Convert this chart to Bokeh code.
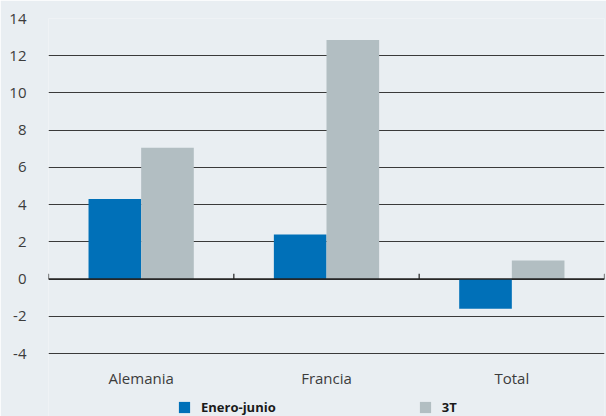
from bokeh.plotting import figure
from bokeh.models import (ColumnDataSource, FactorRange, Range1d, Span, Legend, LegendItem,
                          FixedTicker, LabelSet)
from bokeh.core.properties import value
from bokeh.transform import dodge
from bokeh.embed import file_html
from bokeh.resources import INLINE

categories = ["Alemania", "Francia", "Total"]
enero_junio = [4.3, 2.4, -1.6]
tercer_t = [7.05, 12.85, 1.0]
y_ticks = [-4, -2, 0, 2, 4, 6, 8, 10, 12, 14]
series_names = ["Enero-junio", "3T"]

BG = "#e9eef2"
BLUE = "#0070b8"
GRAY = "#b2bec2"
FONT = "Open Sans"

W, H = 606, 416
TOP, AXIS_PX = 18, 335          # pixel top of the 14 line, pixel span from 14 to -4
ymin, ymax = y_ticks[0], y_ticks[-1]
ppu = AXIS_PX / (ymax - ymin)
y_start = ymax - (H - TOP) / ppu   # extend frame to the bottom so legend/labels are not clipped

src = ColumnDataSource(dict(cat=categories, a=enero_junio, b=tercer_t,
                            base=[ymin] * len(categories)))

p = figure(width=W, height=H, output_backend="svg", toolbar_location=None,
           x_range=FactorRange(*categories, range_padding=0),
           y_range=Range1d(y_start, ymax), x_axis_location=None)
p.background_fill_color = BG
p.border_fill_color = BG
p.outline_line_color = None
p.min_border_left = 48
p.min_border_right = 2
p.min_border_top = TOP
p.min_border_bottom = 0

bw = 0.284
r1 = p.vbar(x=dodge("cat", -bw / 2, range=p.x_range), top="a", bottom=0, width=bw,
            source=src, fill_color=BLUE, line_color=None)
r2 = p.vbar(x=dodge("cat", bw / 2, range=p.x_range), top="b", bottom=0, width=bw,
            source=src, fill_color=GRAY, line_color=None)

# grid
p.xgrid.grid_line_color = None
p.ygrid.ticker = FixedTicker(ticks=y_ticks)
p.ygrid.grid_line_color = "#3a3a3a"
p.ygrid.grid_line_width = 1

# zero axis line and boundary ticks
p.add_layout(Span(location=0, dimension="width", line_color="#222222", line_width=1.5))
bounds = list(range(len(categories) + 1))
p.segment(x0=bounds, x1=bounds, y0=[0] * len(bounds), y1=[0.28] * len(bounds),
          line_color="#222222", line_width=1.2)

# y axis
p.yaxis.ticker = FixedTicker(ticks=y_ticks)
p.yaxis.major_label_overrides = {t: str(t) for t in y_ticks}
p.yaxis.axis_line_color = None
p.yaxis.major_tick_line_color = None
p.yaxis.minor_tick_line_color = None
p.yaxis.major_label_text_font = FONT
p.yaxis.major_label_text_font_size = "15px"
p.yaxis.major_label_text_color = "#3c3c3c"
p.yaxis.major_label_standoff = 16

# category labels
labels = LabelSet(x="cat", y="base", text="cat", source=src, y_offset=-24,
                  text_align="center", text_baseline="middle",
                  text_font=value(FONT), text_font_size=value("15px"),
                  text_color="#3c3c3c")
p.add_layout(labels)

legend = Legend(items=[LegendItem(label=series_names[0], renderers=[r1]),
                       LegendItem(label=series_names[1], renderers=[r2])],
                orientation="horizontal", location=(129, 0),
                margin=0, padding=0, spacing=142,
                glyph_width=14, glyph_height=14, label_standoff=10,
                border_line_alpha=0, background_fill_alpha=0,
                label_text_font=FONT, label_text_font_size="13px",
                label_text_color="#1a1a1a", label_text_font_style="bold")
p.add_layout(legend, "center")

open("out.html", "w").write(file_html(p, INLINE))
